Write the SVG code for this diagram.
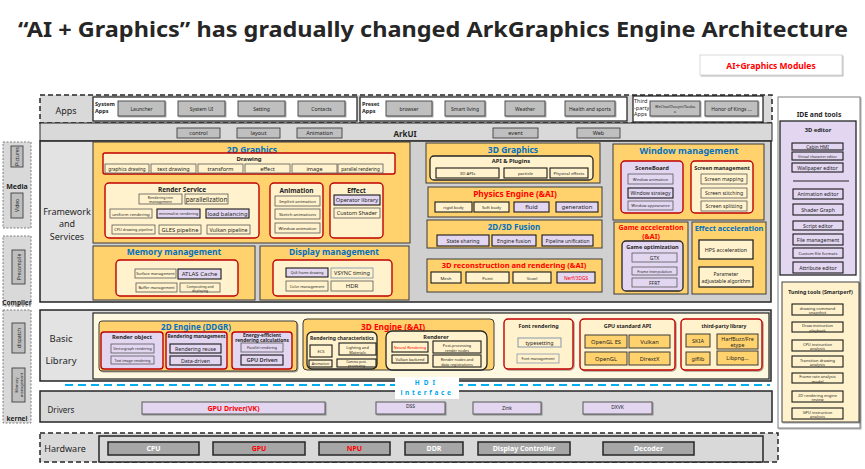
<svg xmlns="http://www.w3.org/2000/svg" width="865" height="469" viewBox="0 0 865 469">
<defs>
<filter id="sh" x="-10%" y="-10%" width="130%" height="140%"><feDropShadow dx="1" dy="1" stdDeviation="0.7" flood-color="#000" flood-opacity="0.35"/></filter>
<style>
text{font-family:'Noto Sans','DejaVu Sans',sans-serif;text-anchor:middle;dominant-baseline:central;fill:#262626}
.b{font-weight:700}
.bl{fill:#0070c0}
.rd{fill:#ff0000}
.wt{fill:#ffffff}
.hd{fill:#00a8ec}
.l{text-anchor:start}
.o{fill:#ffd26e;stroke:#3a3a3a;stroke-width:1}
.y{fill:#fff2cc}
.p{fill:#e2d6f1}
.r{stroke:#c00000;stroke-width:1.4}
.k{stroke:#262626;stroke-width:1.3}
.i{stroke:#595959;stroke-width:0.8}
.ik{stroke:#1a1a1a;stroke-width:1.1}
.gs{fill:#d9d9d9;stroke:#262626;stroke-width:1.5}
.ds{fill:#d9d9d9;stroke:#262626;stroke-width:1.5;stroke-dasharray:5 3}
.ld{fill:#d9d9d9;stroke:#7f7f7f;stroke-width:1;stroke-dasharray:2 1.5}
.ab{fill:#bfbfbf;stroke:#404040;stroke-width:0.9}
.hw{fill:#a6a6a6;stroke:#262626;stroke-width:1.5}
.dr{fill:#e2d6f1;stroke:#595959;stroke-width:1}
</style>
</defs>
<rect x="0" y="0" width="865" height="469" fill="#ffffff"/>

<g id="title"><text x="433" y="28" class="b" font-size="22" textLength="830" lengthAdjust="spacingAndGlyphs">“AI + Graphics” has gradually changed ArkGraphics Engine Architecture</text></g>
<g id="legend"><rect x="700" y="55" width="142" height="20" fill="#fff" stroke="#d0d0d0" stroke-width="0.8" filter="url(#sh)"/><text x="771" y="65" class="b rd" font-size="8.5">AI+Graphics Modules</text></g>

<!-- left side panels -->
<g id="media"><rect x="3" y="142" width="28" height="86" class="ld"/>
<rect x="11" y="146" width="12" height="21" class="ab" fill="#d9d9d9"/><text transform="translate(17 156.5) rotate(-90)" font-size="5">Pictures</text>
<text x="17" y="186" class="b" font-size="7">Media</text>
<rect x="11" y="193" width="12" height="25" class="ab"/><text transform="translate(17 205.5) rotate(-90)" font-size="5">Video</text></g>
<g id="compiler"><rect x="3" y="236" width="28" height="70" class="ld"/>
<rect x="12" y="250" width="13" height="34" class="ab"/><text transform="translate(18.5 267) rotate(-90)" font-size="5">Precompile</text>
<text x="17" y="302" class="b" font-size="6.5">Compiler</text></g>
<g id="kernel"><rect x="3" y="310" width="28" height="113" class="ld"/>
<rect x="12" y="323" width="13" height="30" class="ab"/><text transform="translate(18.5 338) rotate(-90)" font-size="5">dispatch</text>
<rect x="12" y="368" width="13" height="34" class="ab"/><text transform="translate(18.5 385) rotate(-90)" font-size="3.8"><tspan x="0" y="-2.2">Memory</tspan><tspan x="0" y="2.4">management</tspan></text>
<text x="17" y="418" class="b" font-size="6.5">kernel</text></g>

<!-- Apps -->
<g id="apps"><rect x="40" y="95" width="732" height="28" class="ds"/>
<text x="66" y="110" font-size="9">Apps</text>
<g id="system-apps"><rect x="93" y="97" width="264" height="24" fill="#fff" stroke="#1a1a1a" stroke-width="1.2"/>
<text x="95" y="104" class="b l" font-size="5.5">System</text><text x="95" y="111" class="b l" font-size="5.5">Apps</text>
<g id="launcher"><rect x="118" y="101" width="47" height="15" class="ab" filter="url(#sh)"/><text x="141.5" y="108.5" font-size="5">Launcher</text></g>
<g id="systemui"><rect x="178" y="101" width="47" height="15" class="ab" filter="url(#sh)"/><text x="201.5" y="108.5" font-size="5">System UI</text></g>
<g id="setting"><rect x="238" y="101" width="47" height="15" class="ab" filter="url(#sh)"/><text x="261.5" y="108.5" font-size="5">Setting</text></g>
<g id="contacts"><rect x="298" y="101" width="47" height="15" class="ab" filter="url(#sh)"/><text x="321.5" y="108.5" font-size="5">Contacts</text></g></g>
<g id="preset-apps"><rect x="360" y="97" width="267" height="24" fill="#fff" stroke="#1a1a1a" stroke-width="1.2"/>
<text x="362" y="104" class="b l" font-size="5.5">Preset</text><text x="362" y="111" class="b l" font-size="5.5">Apps</text>
<g id="browser"><rect x="386" y="101" width="46" height="15" class="ab" filter="url(#sh)"/><text x="409" y="108.5" font-size="5">browser</text></g>
<g id="smartliving"><rect x="445" y="101" width="40" height="15" class="ab" filter="url(#sh)"/><text x="465" y="108.5" font-size="5">Smart living</text></g>
<g id="weather"><rect x="505" y="101" width="40" height="15" class="ab" filter="url(#sh)"/><text x="525" y="108.5" font-size="5">Weather</text></g>
<g id="health"><rect x="565" y="101" width="50" height="15" class="ab" filter="url(#sh)"/><text x="590" y="108.5" font-size="5">Health and sports</text></g></g>
<g id="third-apps"><rect x="633" y="96" width="130" height="26" fill="#fff" stroke="#1a1a1a" stroke-width="1.2"/>
<text x="634" y="101" class="l" font-size="5.5">Third</text><text x="634" y="107.5" class="l" font-size="5.5">-party</text><text x="634" y="114" class="l" font-size="5.5">Apps</text>
<g id="wechat"><rect x="650" y="101" width="50" height="15" class="ab" filter="url(#sh)"/><text x="675" y="108.5" font-size="3.8"><tspan x="675" y="106">WeChat/Douyin/Taoba</tspan><tspan x="675" y="111">o</tspan></text></g>
<g id="honor"><rect x="705" y="101" width="53" height="15" class="ab" filter="url(#sh)"/><text x="731.5" y="108.5" font-size="5">Honor of Kings ...</text></g></g></g>

<!-- ArkUI -->
<g id="arkui"><rect x="40" y="123" width="732" height="18" fill="#d9d9d9" stroke="#262626" stroke-width="1"/>
<text x="405" y="133" class="b" font-size="8">ArkUI</text>
<g id="control"><rect x="177" y="128" width="43" height="10" class="ab"/><text x="198.5" y="133" font-size="5.5">control</text></g>
<g id="layout"><rect x="237" y="128" width="43" height="10" class="ab"/><text x="258.5" y="133" font-size="5.5">layout</text></g>
<g id="animation-ui"><rect x="297" y="128" width="45" height="10" class="ab"/><text x="319.5" y="133" font-size="5.5">Animation</text></g>
<g id="event"><rect x="493" y="128" width="45" height="10" class="ab"/><text x="515.5" y="133" font-size="5.5">event</text></g>
<g id="web"><rect x="577" y="128" width="43" height="10" class="ab"/><text x="598.5" y="133" font-size="5.5">Web</text></g></g>

<!-- Framework and Services -->
<g id="framework"><rect x="40" y="141" width="731" height="161" fill="#d0d0d0" stroke="#262626" stroke-width="1.5"/>
<rect x="41" y="142" width="52" height="159" fill="#e3e3e3"/>
<text x="67" y="211" font-size="9">Framework</text><text x="67" y="223.5" font-size="9">and</text><text x="67" y="236" font-size="9">Services</text></g>

<g id="g2d"><rect x="93" y="142" width="317" height="101" class="o"/>
<text x="252" y="149" class="b bl" font-size="8.5">2D Graphics</text>
<g id="drawing"><rect x="103" y="153" width="292" height="21" rx="2" class="y r"/>
<text x="249" y="158.5" class="b" font-size="6">Drawing</text>
<g id="d1"><rect x="105" y="164" width="44" height="9" class="y i"/><text x="127" y="168.5" font-size="4.6">graphics  drawing</text></g>
<g id="d2"><rect x="151" y="164" width="45" height="9" class="y i"/><text x="173.5" y="168.5" font-size="5.5">text drawing</text></g>
<g id="d3"><rect x="198" y="164" width="45" height="9" class="y i"/><text x="220.5" y="168.5" font-size="5.5">transform</text></g>
<g id="d4"><rect x="245" y="164" width="45" height="9" class="y i"/><text x="267.5" y="168.5" font-size="5.5">effect</text></g>
<g id="d5"><rect x="292" y="164" width="45" height="9" class="y i"/><text x="314.5" y="168.5" font-size="5.5">image</text></g>
<g id="d6"><rect x="338" y="164" width="45" height="9" class="y i"/><text x="360.5" y="168.5" font-size="4.6">parallel rendering</text></g></g>
<g id="render-service"><rect x="105" y="183" width="154" height="55" rx="4" class="y r"/>
<text x="182" y="189" class="b" font-size="6.5">Render Service</text>
<g id="rs1"><rect x="139" y="194" width="43" height="10" class="y i"/><text font-size="3.6"><tspan x="160.5" y="197">Rendering tree</tspan><tspan x="160.5" y="201.3">management</tspan></text></g>
<g id="rs2"><rect x="185" y="194" width="43" height="10" class="y i"/><text x="206.5" y="199" font-size="6.3">parallelization</text></g>
<g id="rs3"><rect x="110" y="209" width="42" height="9" class="y i"/><text x="131" y="213.5" font-size="4.3">uniform rendering</text></g>
<g id="rs4"><rect x="157" y="209" width="43" height="9" class="p ik"/><text x="178.5" y="213.5" font-size="4">minimalist rendering</text></g>
<g id="rs5"><rect x="206" y="209" width="43" height="9" class="p ik"/><text x="227.5" y="213.5" font-size="5.8">load balancing</text></g>
<g id="rs6"><rect x="112" y="225" width="43" height="9" class="y i"/><text x="133.5" y="229.5" font-size="3.8">CPU drawing pipeline</text></g>
<g id="rs7"><rect x="159" y="225" width="42" height="9" class="y i"/><text x="180" y="229.5" font-size="5.8">GLES pipeline</text></g>
<g id="rs8"><rect x="207" y="225" width="43" height="9" class="y i"/><text x="228.5" y="229.5" font-size="5.3">Vulkan pipeline</text></g></g>
<g id="animation"><rect x="270" y="183" width="53" height="55" rx="4" class="y r"/>
<text x="296.5" y="190" class="b" font-size="6.5">Animation</text>
<g id="an1"><rect x="275" y="196" width="45" height="10" class="y i"/><text x="297.5" y="201" font-size="4.3">Implicit animation</text></g>
<g id="an2"><rect x="275" y="209" width="45" height="10" class="y i"/><text x="297.5" y="214" font-size="4.3">Sketch animations</text></g>
<g id="an3"><rect x="275" y="223" width="45" height="10" class="y i"/><text x="297.5" y="228" font-size="4.3">Window animation</text></g></g>
<g id="effect"><rect x="330" y="183" width="53" height="55" rx="4" class="y r"/>
<text x="356.5" y="190" class="b" font-size="6.5">Effect</text>
<g id="ef1"><rect x="334" y="195" width="46" height="10" class="p ik"/><text x="357" y="200" font-size="5.6">Operator library</text></g>
<g id="ef2"><rect x="334" y="208" width="46" height="10" class="y i"/><text x="357" y="213" font-size="5.6">Custom Shader</text></g></g></g>

<g id="memory"><rect x="93" y="246" width="162" height="54" class="o"/>
<text x="174" y="251.5" class="b bl" font-size="8.5">Memory management</text>
<rect x="116" y="260" width="122" height="36" rx="4" class="y r"/>
<g id="m1"><rect x="135" y="269" width="41" height="9" class="y i"/><text x="155.5" y="273.5" font-size="3.8">Surface  management</text></g>
<g id="m2"><rect x="178" y="269" width="43" height="10" class="p ik"/><text x="199.5" y="274" font-size="6">ATLAS Cache</text></g>
<g id="m3"><rect x="136" y="283" width="41" height="9" class="y i"/><text x="156.5" y="287.5" font-size="3.8">Buffer  management</text></g>
<g id="m4"><rect x="180" y="283" width="40" height="9" class="y i"/><text font-size="3.4"><tspan x="200" y="285.8">Compositing and</tspan><tspan x="200" y="289.6">displaying</tspan></text></g></g>

<g id="display"><rect x="260" y="246" width="149" height="54" class="o"/>
<text x="334" y="251.5" class="b bl" font-size="8.5">Display management</text>
<rect x="273" y="260" width="119" height="36" rx="4" class="y r"/>
<g id="dp1"><rect x="286" y="268" width="42" height="9" class="p ik"/><text x="307" y="272.5" font-size="3.6">QoS frame drawing</text></g>
<g id="dp2"><rect x="331" y="268" width="42" height="10" fill="#fff2cc" stroke="#8497b0" stroke-width="0.9"/><text x="352" y="273" font-size="5.6">VSYNC timing</text></g>
<g id="dp3"><rect x="286" y="281" width="42" height="10" class="y i"/><text x="307" y="286" font-size="3.8">Color management</text></g>
<g id="dp4"><rect x="331" y="281" width="42" height="10" class="y i"/><text x="352" y="286" font-size="6">HDR</text></g></g>

<g id="g3d"><rect x="426" y="143" width="174" height="40" class="o"/>
<text x="513" y="149" class="b bl" font-size="8.5">3D Graphics</text>
<rect x="430" y="156" width="163" height="24" rx="4" class="y k"/>
<text x="511" y="161" class="b" font-size="5.8">API &amp; Plugins</text>
<g id="g3a"><rect x="436" y="168" width="63" height="10" class="y ik"/><text x="467.5" y="173" font-size="4.3">3D APIs</text></g>
<g id="g3b"><rect x="504" y="168" width="43" height="10" class="y ik"/><text x="525.5" y="173" font-size="4.3">particle</text></g>
<g id="g3c"><rect x="550" y="168" width="38" height="10" class="y ik"/><text x="569" y="173" font-size="4.3">Physical effects</text></g></g>

<g id="physics"><rect x="428" y="187" width="174" height="30" class="o"/>
<text x="515" y="193.5" class="b rd" font-size="8.3">Physics Engine   (&amp;AI)</text>
<g id="ph1"><rect x="435" y="202" width="37" height="10" class="y ik"/><text x="453.5" y="207" font-size="4.3">rigid body</text></g>
<g id="ph2"><rect x="474" y="202" width="35" height="10" class="y ik"/><text x="491.5" y="207" font-size="4.3">Soft body</text></g>
<g id="ph3"><rect x="514" y="202" width="35" height="10" class="p ik"/><text x="531.5" y="207" font-size="6">fluid</text></g>
<g id="ph4"><rect x="556" y="202" width="42" height="10" class="p ik"/><text x="577" y="207" font-size="6">generation</text></g></g>

<g id="fusion"><rect x="427" y="220" width="175" height="28" class="o"/>
<text x="514" y="226" class="b bl" font-size="8">2D/3D Fusion</text>
<g id="fu1"><rect x="437" y="235" width="52" height="11" class="p ik"/><text x="463" y="240.5" font-size="5.3">State  sharing</text></g>
<g id="fu2"><rect x="492" y="235" width="44" height="11" class="p ik"/><text x="514" y="240.5" font-size="5.3">Engine fusion</text></g>
<g id="fu3"><rect x="542" y="235" width="51" height="11" class="p ik"/><text x="567.5" y="240.5" font-size="4.9">Pipeline unification</text></g></g>

<g id="recon"><rect x="427" y="259" width="175" height="33" class="o"/>
<text x="514" y="265" class="b rd" font-size="7.6">3D reconstruction and rendering   (&amp;AI)</text>
<g id="rc1"><rect x="431" y="272" width="30" height="11" class="y ik"/><text x="446" y="277.5" font-size="4.3">Mesh</text></g>
<g id="rc2"><rect x="466" y="272" width="43" height="11" class="y ik"/><text x="487.5" y="277.5" font-size="4.3">Point</text></g>
<g id="rc3"><rect x="513" y="272" width="38" height="11" class="y ik"/><text x="532" y="277.5" font-size="4.3">Voxel</text></g>
<g id="rc4"><rect x="557" y="272" width="38" height="11" class="p ik"/><text x="576" y="277.5" class="rd" font-size="4.8">Nerf/3DGS</text></g></g>

<g id="window"><rect x="613" y="144" width="151" height="76" class="o"/>
<text x="689" y="150.5" class="b bl" font-size="9">Window management</text>
<g id="sceneboard"><rect x="621" y="161" width="62" height="52" rx="4" class="p r"/>
<text x="652" y="168" class="b" font-size="5.8">SceneBoard</text>
<g id="w1"><rect x="628" y="174" width="45" height="10" class="p i"/><text x="650.5" y="179" font-size="4">Window   animation</text></g>
<g id="w2"><rect x="628" y="188" width="45" height="10" class="p ik"/><text x="650.5" y="193" font-size="5.1">Window strategy</text></g>
<g id="w3"><rect x="628" y="201" width="45" height="9" class="p i"/><text x="650.5" y="205.5" font-size="4">Window   appearance</text></g></g>
<g id="screen"><rect x="691" y="161" width="62" height="52" rx="4" class="y r"/>
<text x="722" y="168" class="b" font-size="5.4">Screen management</text>
<g id="s1"><rect x="701" y="174" width="46" height="10" class="y i"/><text x="724" y="179" font-size="5.1">Screen mapping</text></g>
<g id="s2"><rect x="701" y="188" width="46" height="10" class="y i"/><text x="724" y="193" font-size="5.1">Screen stitching</text></g>
<g id="s3"><rect x="701" y="201" width="46" height="10" class="y i"/><text x="724" y="206" font-size="5.1">Screen splitting</text></g></g></g>

<g id="game"><rect x="614" y="222" width="74" height="72" class="o"/>
<text x="651" y="227" class="b rd" font-size="7">Game  acceleration</text>
<text x="651" y="236.5" class="b rd" font-size="7">(&amp;AI)</text>
<rect x="622" y="241" width="61" height="50" rx="4" class="p k"/>
<text x="652.5" y="247" class="b" font-size="5.5">Game optimization</text>
<g id="ga1"><rect x="632" y="253" width="45" height="9" class="p i"/><text x="654.5" y="257.5" font-size="5">GTX</text></g>
<g id="ga2"><rect x="632" y="267" width="45" height="8" class="p i"/><text x="654.5" y="271" font-size="3.7">Frame interpolation</text></g>
<g id="ga3"><rect x="632" y="278" width="45" height="9" class="p i"/><text x="654.5" y="282.5" font-size="5">FFRT</text></g></g>

<g id="effacc"><rect x="692" y="222" width="74" height="72" class="o"/>
<text x="729" y="227.5" class="b bl" font-size="7.4">Effect acceleration</text>
<g id="ea1"><rect x="699" y="240" width="54" height="19" class="y k"/><text x="726" y="249.5" font-size="5.4">HPS acceleration</text></g>
<g id="ea2"><rect x="699" y="267" width="54" height="20" class="y k"/><text font-size="5"><tspan x="726" y="274">Parameter</tspan><tspan x="726" y="280.5">adjustable algorithm</tspan></text></g></g>

<!-- IDE and tools -->
<g id="ide"><rect x="778" y="97" width="82" height="331" fill="#fff" stroke="#7f7f7f" stroke-width="1" filter="url(#sh)"/>
<text x="819" y="114" class="b" font-size="6.8">IDE and tools</text>
<g id="editor3d"><rect x="780" y="121" width="76" height="154" class="p k"/>
<text x="818" y="130" class="b" font-size="5.8">3D editor</text>
<g id="e1"><rect x="792" y="143" width="51" height="7" class="p ik"/><text x="817.5" y="146.5" font-size="4.6">Cabin HMI</text></g>
<g id="e2"><rect x="792" y="152" width="51" height="8" class="p ik"/><text x="817.5" y="156" font-size="3.6">Virtual character editor</text></g>
<g id="e3"><rect x="792" y="163" width="51" height="9" class="p ik"/><text x="817.5" y="167.5" font-size="5.2">Wallpaper editor</text></g>
<line x1="793" y1="181" x2="849" y2="181" stroke="#262626" stroke-width="1"/>
<g id="e4"><rect x="793" y="189" width="50" height="10" class="p ik"/><text x="818" y="194" font-size="5.2">Animation editor</text></g>
<g id="e5"><rect x="793" y="204" width="50" height="11" class="p ik"/><text x="818" y="209.5" font-size="5.2">Shader Graph</text></g>
<g id="e6"><rect x="793" y="221" width="50" height="9" class="p ik"/><text x="818" y="225.5" font-size="5.2">Script editor</text></g>
<g id="e7"><rect x="793" y="234" width="50" height="11" class="p ik"/><text x="818" y="239.5" font-size="5.2">File management</text></g>
<g id="e8"><rect x="793" y="248" width="50" height="10" class="p ik"/><text x="818" y="253" font-size="4.2">Custom file formats</text></g>
<g id="e9"><rect x="793" y="262" width="50" height="11" class="p ik"/><text x="818" y="267.5" font-size="5.2">Attribute editor</text></g></g>
<g id="tuning"><rect x="782" y="282" width="77" height="140" class="y" stroke="#404040" stroke-width="1" filter="url(#sh)"/>
<text x="820.5" y="292" class="b" font-size="5.3">Tuning tools (Smartperf)</text>
<g id="t1"><rect x="792" y="304" width="51" height="11" class="y ik"/><text font-size="4"><tspan x="817.5" y="307.5">drawing command</tspan><tspan x="817.5" y="312">snapshot</tspan></text></g>
<g id="t2"><rect x="792" y="322" width="51" height="10" class="y ik"/><text font-size="4"><tspan x="817.5" y="325">Draw instruction</tspan><tspan x="817.5" y="329.5">playback</tspan></text></g>
<g id="t3"><rect x="792" y="340" width="51" height="11" class="y ik"/><text font-size="4"><tspan x="817.5" y="343.5">CPU instruction</tspan><tspan x="817.5" y="348">analysis</tspan></text></g>
<g id="t4"><rect x="792" y="356" width="51" height="11" class="y ik"/><text font-size="4"><tspan x="817.5" y="359.5">Transition drawing</tspan><tspan x="817.5" y="364">analysis</tspan></text></g>
<g id="t5"><rect x="792" y="373" width="51" height="10" class="y ik"/><text font-size="4"><tspan x="817.5" y="376">Frame rate analysis</tspan><tspan x="817.5" y="380.5">model</tspan></text></g>
<g id="t6"><rect x="792" y="391" width="51" height="11" class="y ik"/><text font-size="4"><tspan x="817.5" y="394.5">2D rendering engine</tspan><tspan x="817.5" y="399">review</tspan></text></g>
<g id="t7"><rect x="792" y="408" width="51" height="11" class="y ik"/><text font-size="4"><tspan x="817.5" y="411.5">GPU instruction</tspan><tspan x="817.5" y="416">analysis</tspan></text></g></g></g>

<!-- Basic Library -->
<g id="basic"><rect x="40" y="310" width="731" height="71" class="gs"/>
<rect x="41" y="311" width="52" height="69" fill="#e3e3e3"/>
<text x="61" y="338" font-size="9.5">Basic</text><text x="61" y="360" font-size="9.5">Library</text>
<rect x="93" y="313" width="676" height="66" fill="#fff8e1" stroke="#262626" stroke-width="1.2"/></g>

<g id="engine2d"><rect x="99" y="321" width="198" height="50" rx="3" class="o" filter="url(#sh)"/>
<text x="196" y="326" class="b bl" font-size="8">2D Engine  (DDGR)</text>
<g id="renderobj"><rect x="101" y="332" width="62" height="37" rx="3" class="p r"/>
<text x="132" y="337" class="b" font-size="5.8">Render object</text>
<g id="ro1"><rect x="111" y="344" width="43" height="9" class="p i"/><text x="132.5" y="348.5" font-size="3.6">Vectorgraph  rendering</text></g>
<g id="ro2"><rect x="111" y="356" width="43" height="8" class="p i"/><text x="132.5" y="360" font-size="3.6">Text image rendering</text></g></g>
<g id="rendermgmt"><rect x="166" y="332" width="61" height="37" rx="3" class="p r"/>
<text x="196.5" y="335.5" class="b" font-size="4.8">Rendering management</text>
<g id="rm1"><rect x="170" y="344" width="51" height="9" class="p ik"/><text x="195.5" y="348.5" font-size="5.3">Rendering reuse</text></g>
<g id="rm2"><rect x="170" y="356" width="51" height="9" class="p ik"/><text x="195.5" y="360.5" font-size="5.3">Data-driven</text></g></g>
<g id="energy"><rect x="232" y="332" width="60" height="37" rx="3" class="p r"/>
<text x="262" y="334.8" class="b" font-size="4.8">Energy-efficient</text>
<text x="262" y="339.8" class="b" font-size="4.8">rendering calculations</text>
<g id="en1"><rect x="241" y="343" width="42" height="9" class="p i"/><text x="262" y="347.5" font-size="3.6">Parallel rendering</text></g>
<g id="en2"><rect x="241" y="355" width="42" height="10" class="p ik"/><text x="262" y="360" font-size="5.6" font-weight="600">GPU Driven</text></g></g></g>

<g id="engine3d"><rect x="303" y="319" width="191" height="51" rx="4" class="o" stroke="#262626" stroke-width="1.5"/>
<text x="393" y="326" class="b rd" font-size="8.3">3D Engine   (&amp;AI)</text>
<g id="rchar"><rect x="307" y="332" width="70" height="37" rx="5" class="y k"/>
<text x="342" y="337.5" class="b" font-size="5">Rendering characteristics</text>
<g id="rc-ecs"><rect x="310" y="345" width="22" height="12" class="y ik"/><text x="321" y="351" font-size="4">ECS</text></g>
<g id="rc-lm"><rect x="339" y="343" width="37" height="12" class="y ik"/><text font-size="3.8"><tspan x="357.5" y="347">Lighting  and</tspan><tspan x="357.5" y="351.5">Materials</tspan></text></g>
<g id="rc-an"><rect x="309" y="360" width="23" height="7" class="y ik"/><text x="320.5" y="363.5" font-size="3.6">Animation</text></g>
<g id="rc-cp"><rect x="337" y="359" width="39" height="8" class="y ik"/><text font-size="3.3"><tspan x="356.5" y="361.3">Camera post-</tspan><tspan x="356.5" y="364.9">processing</tspan></text></g></g>
<g id="renderer"><rect x="386" y="331" width="101" height="39" rx="6" class="y k"/>
<text x="436" y="337" class="b" font-size="5.5">Renderer</text>
<g id="rn1"><rect x="392" y="342" width="36" height="10" class="y ik"/><text x="410" y="347" class="rd" font-size="3.9">Neural Rendering</text></g>
<g id="rn2"><rect x="433" y="341" width="48" height="12" class="y ik"/><text font-size="3.8"><tspan x="457" y="345">Post-processing</tspan><tspan x="457" y="349.5">render nodes</tspan></text></g>
<g id="rn3"><rect x="392" y="355" width="36" height="8" class="y ik"/><text x="410" y="359" font-size="3.9">Vulkan backend</text></g>
<g id="rn4"><rect x="433" y="355" width="48" height="12" class="y ik"/><text font-size="3.8"><tspan x="457" y="359">Render nodes and</tspan><tspan x="457" y="363.5">data registrations</tspan></text></g></g></g>

<g id="font"><rect x="504" y="319" width="69" height="50" rx="4" class="y r" filter="url(#sh)"/>
<text x="538.5" y="326" class="b" font-size="5.4">Font rendering</text>
<g id="f1"><rect x="518" y="338" width="43" height="9" fill="#fff2cc" stroke="#8497b0" stroke-width="1"/><text x="539.5" y="342.5" font-size="5.3">typesetting</text></g>
<g id="f2"><rect x="517" y="354" width="42" height="9" fill="#fff2cc" stroke="#8497b0" stroke-width="0.8"/><text x="538" y="358.5" font-size="3.8">Font management</text></g></g>

<g id="gpuapi"><rect x="580" y="319" width="95" height="51" rx="4" class="y r" filter="url(#sh)"/>
<text x="627.5" y="326" class="b" font-size="5.4">GPU standard API</text>
<g id="ga-es"><rect x="585" y="335" width="42" height="13" class="o" stroke="#595959"/><text x="606" y="341.5" font-size="5.8">OpenGL  ES</text></g>
<g id="ga-vk"><rect x="629" y="335" width="41" height="13" class="o" stroke="#595959"/><text x="649.5" y="341.5" font-size="5.8">Vulkan</text></g>
<g id="ga-gl"><rect x="585" y="352" width="42" height="13" class="o" stroke="#595959"/><text x="606" y="358.5" font-size="5.8">OpenGL</text></g>
<g id="ga-dx"><rect x="629" y="352" width="41" height="13" class="o" stroke="#595959"/><text x="649.5" y="358.5" font-size="5.8">DirextX</text></g></g>

<g id="thirdlib"><rect x="681" y="319" width="81" height="51" rx="4" class="y r" filter="url(#sh)"/>
<text x="724" y="326" class="b" font-size="5">third-party library</text>
<g id="tl1"><rect x="686" y="334" width="24" height="13" class="o" stroke="#595959"/><text x="698" y="340.5" font-size="5.5">SKIA</text></g>
<g id="tl2"><rect x="717" y="334" width="41" height="15" class="o" stroke="#595959"/><text font-size="5.3"><tspan x="737.5" y="338.5">HarfBuzz/Fre</tspan><tspan x="737.5" y="345">etype</tspan></text></g>
<g id="tl3"><rect x="686" y="352" width="24" height="13" class="o" stroke="#595959"/><text x="698" y="358.5" font-size="5.5">giflib</text></g>
<g id="tl4"><rect x="717" y="351" width="41" height="14" class="o" stroke="#595959"/><text x="737.5" y="358" font-size="5.5">Libpng...</text></g></g>

<!-- Drivers -->
<g id="drivers"><rect x="40" y="391" width="732" height="31" class="gs"/>
<text x="61" y="409" font-size="8">Drivers</text>
<g id="gpudrv"><rect x="142" y="402" width="183" height="12" class="dr" filter="url(#sh)"/><text x="233.5" y="408" class="b rd" font-size="7">GPU Driver(VK)</text></g>
<g id="dss"><rect x="376" y="402" width="69" height="12" class="dr" filter="url(#sh)"/><text x="410.5" y="406" font-size="5">DSS</text></g>
<g id="zink"><rect x="473" y="402" width="68" height="12" class="dr" filter="url(#sh)"/><text x="507" y="408" font-size="5">Zink</text></g>
<g id="dxvk"><rect x="583" y="402" width="69" height="12" class="dr" filter="url(#sh)"/><text x="617.5" y="407" font-size="5">DXVK</text></g></g>

<!-- HDI interface -->
<g id="hdi"><line x1="65" y1="385" x2="770" y2="385" stroke="#00b0f0" stroke-width="2" stroke-dasharray="8 5"/>
<rect x="395" y="377" width="64" height="22" fill="#fff"/>
<text x="427" y="382.5" class="b hd" font-size="6.5" letter-spacing="4">HDI</text>
<text x="427" y="392.5" class="b hd" font-size="6.5" letter-spacing="2.6">interface</text></g>

<!-- Hardware -->
<g id="hardware"><rect x="40" y="433" width="738" height="29" class="ds"/>
<text x="65" y="448" font-size="9">Hardware</text>
<rect x="99" y="436" width="664" height="26" class="gs"/>
<g id="cpu"><rect x="108" y="442" width="91" height="13" class="hw"/><text x="153.5" y="448.5" class="b wt" font-size="7">CPU</text></g>
<g id="gpu"><rect x="213" y="442" width="92" height="13" class="hw"/><text x="259" y="448.5" class="b rd" font-size="7">GPU</text></g>
<g id="npu"><rect x="319" y="442" width="71" height="13" class="hw"/><text x="354.5" y="448.5" class="b rd" font-size="7">NPU</text></g>
<g id="ddr"><rect x="405" y="442" width="58" height="13" class="hw"/><text x="434" y="448.5" class="b wt" font-size="7">DDR</text></g>
<g id="dispctl"><rect x="478" y="442" width="92" height="13" class="hw"/><text x="524" y="448.5" class="b wt" font-size="7">Display Controller</text></g>
<g id="decoder"><rect x="603" y="442" width="91" height="13" class="hw"/><text x="648.5" y="448.5" class="b wt" font-size="7">Decoder</text></g></g>
</svg>
